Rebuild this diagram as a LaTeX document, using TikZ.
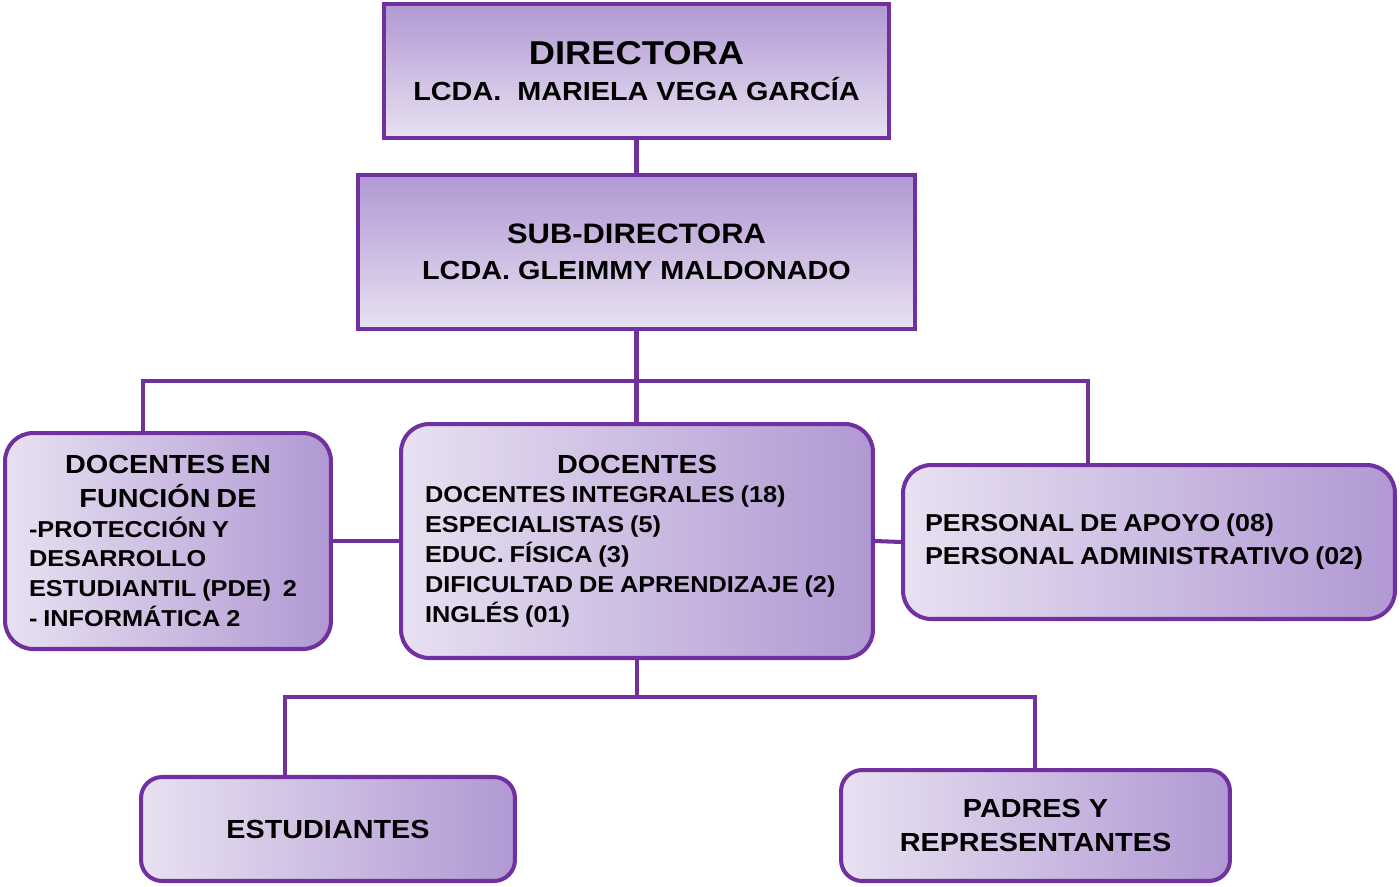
\documentclass[tikz,border=0pt]{standalone}
\usepackage{fontspec}
\setmainfont{Liberation Sans}[FakeStretch=1.1]
\usepackage{xcolor}
\usepackage{tikz}
\usetikzlibrary{positioning,calc}
\setlength{\parindent}{0pt}
\definecolor{orgPurple}{HTML}{7030A0}
\definecolor{orgLight}{HTML}{E8E1F1}
\definecolor{orgDark}{HTML}{B198D3}

\begin{document}
\begin{tikzpicture}[
  x=0.02cm,
  y=-0.02cm,
  font=\bfseries,
  headbox/.style={
    rectangle,
    draw=orgPurple,
    line width=2.3pt,
    top color=orgDark,
    bottom color=orgLight,
    align=center,
    font=\bfseries\fontsize{14.9}{20.4}\selectfont,
    inner sep=0pt
  },
  unitbox/.style={
    rectangle,
    draw=orgPurple,
    line width=2.3pt,
    rounded corners=16pt,
    left color=orgLight,
    right color=orgDark,
    inner sep=0pt
  },
  lowbox/.style={unitbox,rounded corners=12pt,align=center,
    font=\bfseries\fontsize{14.9}{19.8}\selectfont},
  link/.style={draw=orgPurple,line width=2.3pt}
]
\useasboundingbox (0,0) rectangle (1400,886);

% Direction boxes.
\node[headbox,minimum width=10.1cm,minimum height=2.68cm] (dir) at (636.5,71)
  {{\fontsize{18.8}{20.4}\selectfont DIRECTORA}\\LCDA.\ \ MARIELA VEGA GARCÍA};
\node[headbox,minimum width=11.14cm,minimum height=3.08cm] (sub) at (636.5,252)
  {{\fontsize{16}{20.4}\selectfont SUB-DIRECTORA}\\LCDA. GLEIMMY MALDONADO};

% Staff row.
\node[unitbox,minimum width=6.52cm,minimum height=4.32cm,text width=5.56cm,align=left] (func) at (168,541)
  {{\fontsize{14.9}{19.3}\selectfont\centering DOCENTES EN\\FUNCIÓN DE\par}
   {\fontsize{13.1}{17}\selectfont -PROTECCIÓN Y\\DESARROLLO\\ESTUDIANTIL (PDE)\ \ 2\\- INFORMÁTICA 2\par}};
\node[unitbox,minimum width=9.44cm,minimum height=4.68cm,text width=8.48cm,align=left] (doc) at (637,541)
  {{\fontsize{14.9}{17}\selectfont\centering DOCENTES\par}
   {\fontsize{13.1}{17}\selectfont DOCENTES INTEGRALES (18)\\ESPECIALISTAS (5)\\EDUC. FÍSICA (3)\\DIFICULTAD DE APRENDIZAJE (2)\\INGLÉS (01)\par}};
\node[unitbox,minimum width=9.84cm,minimum height=3.08cm,text width=8.96cm,align=left] (pers) at (1149,542)
  {{\fontsize{13.9}{18.7}\selectfont PERSONAL DE APOYO (08)\\PERSONAL ADMINISTRATIVO (02)\par}};

% Community row.
\node[lowbox,minimum width=7.48cm,minimum height=2.08cm] (est) at (328,829)
  {ESTUDIANTES};
\node[lowbox,minimum width=7.78cm,minimum height=2.22cm] (pad) at (1035.5,825.5)
  {PADRES Y\\REPRESENTANTES};

% Connectors.
\coordinate (busL) at (143,381);
\coordinate (busR) at (1088,381);
\coordinate (lowL) at (285,697);
\coordinate (lowR) at (1035,697);
\draw[link] (dir.south) -- (sub.north);
\draw[link] (sub.south) -- (sub.south |- doc.north);
\draw[link] (busL |- func.north) -- (busL) -- (busR) -- (busR |- pers.north);
\draw[link] (func.east) -- (doc.west);
\draw[link] (doc.east) -- (pers.west);
\draw[link] (doc.south) -- (doc.south |- lowL);
\draw[link] (lowL |- est.north) -- (lowL) -- (lowR) -- (lowR |- pad.north);

\end{tikzpicture}
\end{document}
